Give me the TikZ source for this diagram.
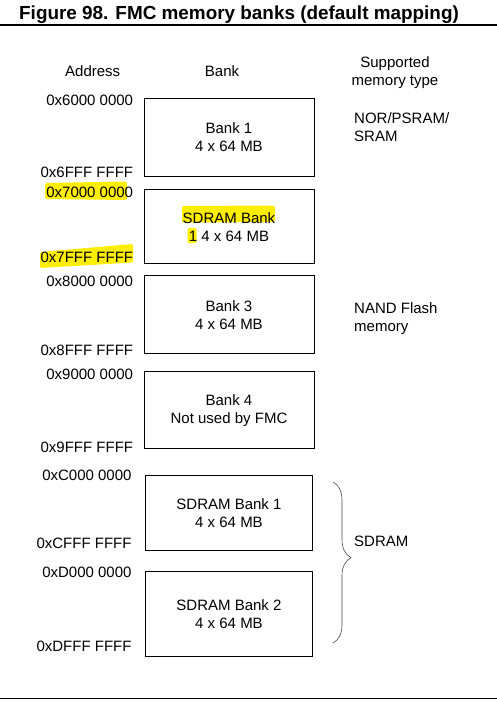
\documentclass[tikz,border=0pt]{standalone}
\usepackage{fontspec}
\setmainfont{Liberation Sans}
\usetikzlibrary{positioning, decorations.pathreplacing, backgrounds}
\definecolor{markyellow}{RGB}{255, 238, 0}
\definecolor{bracegray}{RGB}{70, 70, 70}
\tikzset{
    % Node Styles
    base_text/.style={inner sep=0pt, font=\fontsize{15}{18}\selectfont},
    bank_box/.style={
        base_text, rectangle, draw=black, line width=0.9pt,
        minimum width=170pt, minimum height=77pt, align=center
    },
    sdram_box/.style={bank_box, minimum width=167pt},
    addr_label/.style={base_text, anchor=east},
    head_label/.style={base_text, align=center},
    type_label/.style={base_text, anchor=west, align=left},
    title_label/.style={inner sep=0pt, anchor=base west, font=\fontsize{18.9}{22}\selectfont\bfseries},
    % Line Styles
    rule_line/.style={line width=1.1pt, color=black},
    brace_line/.style={decorate, decoration={brace, amplitude=18pt, aspect=0.47},
        draw=bracegray, line width=0.6pt},
    hl_mark/.style={fill=markyellow, draw=none, rounded corners=1.5pt}
}
\begin{document}
\begin{tikzpicture}[x=1pt, y=-1pt]
    \useasboundingbox (0,0) rectangle (497,702);

    % --- 1. Title ---
    \node [title_label] (title) at (19,19.5) {Figure 98. FMC memory banks (default mapping)};
    \coordinate (rule_top_l) at (0,25);
    \coordinate (rule_top_r) at (497,25);
    \draw [rule_line] (rule_top_l) -- (rule_top_r);

    % --- 2. Column Headers ---
    \node [head_label] (h_addr) at (92.7,70.7) {Address};
    \node [head_label] (h_bank) at (222,70.7) {Bank};
    \node [head_label] (h_type) at (395,72.5) {Supported \\ memory type};

    % --- 3. Bank Column ---
    \node [bank_box, minimum height=77.3pt] (bank1) at (229,137.3) {Bank 1 \\ 4 x 64 MB};
    \node [bank_box, minimum height=74pt, below=13pt of bank1] (bank2) {SDRAM Bank \\ 1 4 x 64 MB};
    \node [bank_box, minimum height=78pt, below=11pt of bank2] (bank3) {Bank 3 \\ 4 x 64 MB};
    \node [bank_box, below=17pt of bank3] (bank4) {Bank 4 \\ Not used by FMC};
    \node [sdram_box, minimum height=75pt, below=26pt of bank4] (sdram1) {SDRAM Bank 1 \\ 4 x 64 MB};
    \node [sdram_box, minimum height=85pt, below=20pt of sdram1] (sdram2) {SDRAM Bank 2 \\ 4 x 64 MB};

    % --- 4. Address Column ---
    \node [addr_label] (a6lo) at (133.3,100) {0x6000 0000};
    \node [addr_label] (a6hi) at (133.3,172.7) {0x6FFF FFFF};
    \node [addr_label] (a7lo) at (133.3,192.7) {0x7000 0000};
    \node [addr_label] (a7hi) at (133.3,257.3) {0x7FFF FFFF};
    \node [addr_label] (a8lo) at (133.3,281.7) {0x8000 0000};
    \node [addr_label] (a8hi) at (133.3,350) {0x8FFF FFFF};
    \node [addr_label] (a9lo) at (133.3,374.3) {0x9000 0000};
    \node [addr_label] (a9hi) at (133.3,447.3) {0x9FFF FFFF};
    \node [addr_label] (aClo) at (131.7,475) {0xC000 0000};
    \node [addr_label] (aChi) at (131.7,543.3) {0xCFFF FFFF};
    \node [addr_label] (aDlo) at (131.7,572.7) {0xD000 0000};
    \node [addr_label] (aDhi) at (131.7,646.7) {0xDFFF FFFF};

    % --- 5. Memory Type Column ---
    \node [type_label] (t_nor) at (354,126.8) {NOR/PSRAM/ \\ SRAM};
    \node [type_label] (t_nand) at (354,318.2) {NAND Flash \\ memory};
    \node [type_label] (t_sdram) at (354,541.7) {SDRAM};

    % SDRAM brace
    \coordinate (brace_top) at (333,482);
    \coordinate (brace_bot) at (333,643);
    \draw [brace_line] (brace_top) -- (brace_bot);

    % --- 6. Highlighter marks ---
    \begin{scope}[on background layer]
        \fill [hl_mark] (45,183) -- (127,181.5) -- (127,200) -- (45,199) -- cycle;
        \fill [hl_mark] (40,252) -- (133,244) -- (133,262.5) -- (40,268) -- cycle;
        \fill [hl_mark] (182,206) -- (275,205.5) -- (275,222) -- (182,222.5) -- cycle;
        \fill [hl_mark] (187.5,228) rectangle (196.5,243);
    \end{scope}

    % --- 7. Bottom rule ---
    \coordinate (rule_bot_l) at (0,698.7);
    \coordinate (rule_bot_r) at (497,698.7);
    \draw [rule_line] (rule_bot_l) -- (rule_bot_r);

\end{tikzpicture}
\end{document}
